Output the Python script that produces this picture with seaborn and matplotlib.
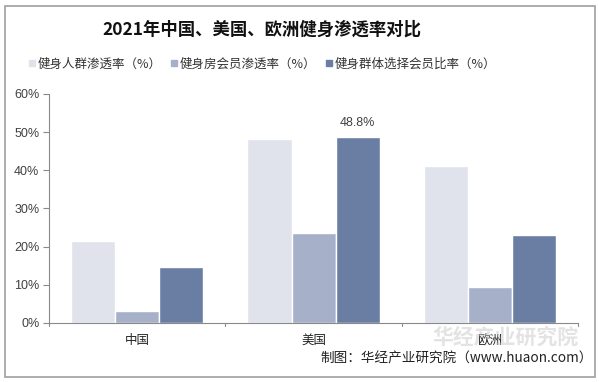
import matplotlib
matplotlib.use("Agg")
import matplotlib.pyplot as plt
from matplotlib.patches import Rectangle
from matplotlib.lines import Line2D
import seaborn as sns
import pandas as pd

regions = ["中国", "美国", "欧洲"]
series = ["健身人群渗透率（%）", "健身房会员渗透率（%）", "健身群体选择会员比率（%）"]
crowd_rate = [21.4, 48.1, 41.1]
gym_member_rate = [3.1, 23.5, 9.4]
member_choice_rate = [14.6, 48.8, 23.0]
colors = ["#E1E3EC", "#A6B1C9", "#6A7EA4"]

df = pd.DataFrame({
    "region": regions * 3,
    "series": [series[0]] * 3 + [series[1]] * 3 + [series[2]] * 3,
    "value": crowd_rate + gym_member_rate + member_choice_rate,
})

sns.set_style("white")
plt.rcParams['font.family'] = ['Noto Sans CJK SC', 'DejaVu Sans']

fig = plt.figure(figsize=(5.99, 3.82), dpi=100)
ax = fig.add_axes([0.0818, 0.1545, 0.8833, 0.5995])

sns.barplot(data=df, x="region", y="value", hue="series", palette=colors,
            width=0.75, saturation=1, ax=ax, legend=False)

ax.set_ylim(0, 60)
ax.set_xlim(-0.5, 2.5)
ax.set_yticks(range(0, 61, 10))
ax.set_yticklabels([f"{v}%" for v in range(0, 61, 10)], fontsize=9,
                   color="#404040", family=["Liberation Sans", "DejaVu Sans"])
ax.set_xticks([0, 1, 2])
ax.set_xticklabels(regions, fontsize=9, color="#222222")
ax.tick_params(axis="x", length=0, pad=8)
ax.tick_params(axis="y", length=4, color="#898989", direction="out", pad=3, left=True)
for x in [-0.5, 0.5, 1.5, 2.5]:
    ax.plot([x, x], [0, -0.9], color="#898989", lw=0.8, clip_on=False)
ax.set_xlabel("")
ax.set_ylabel("")
for s in ["top", "right"]:
    ax.spines[s].set_visible(False)
ax.spines["left"].set_color("#898989")
ax.spines["bottom"].set_color("#898989")
ax.spines["left"].set_linewidth(0.8)
ax.spines["bottom"].set_linewidth(0.8)

# value label on the US member-choice bar
ax.text(1.25, member_choice_rate[1] + 2.0, f"{member_choice_rate[1]}%",
        ha="center", va="bottom", fontsize=9, color="#404040",
        family=["Liberation Sans", "DejaVu Sans"])

fig.text(0.437, 0.922, "2021年中国、美国、欧洲健身渗透率对比", ha="center", va="center",
         fontsize=12.5, fontweight="bold", color="#111111")

handles = [Line2D([], [], marker="s", ls="", markersize=4.5, color=c) for c in colors]
fig.legend(handles, series, loc="center", bbox_to_anchor=(0.437, 0.832), ncol=3,
           frameon=False, fontsize=9, handletextpad=0.05, columnspacing=0.6,
           handlelength=0.8, labelcolor="#333333")

fig.text(0.99, 0.062, "制图：华经产业研究院（www.huaon.com）", ha="right", va="center",
         fontsize=9.8, color="#222222")
fig.text(0.965, 0.118, "华经产业研究院", ha="right", va="center", fontsize=15,
         fontweight="bold", color="#C8C8C8", alpha=0.5, zorder=0)

fig.patches.append(Rectangle((0.008, 0.013), 0.985, 0.97, transform=fig.transFigure,
                             fill=False, edgecolor="#A0A0A0", lw=1.2))

fig.savefig("out.png", dpi=100)
